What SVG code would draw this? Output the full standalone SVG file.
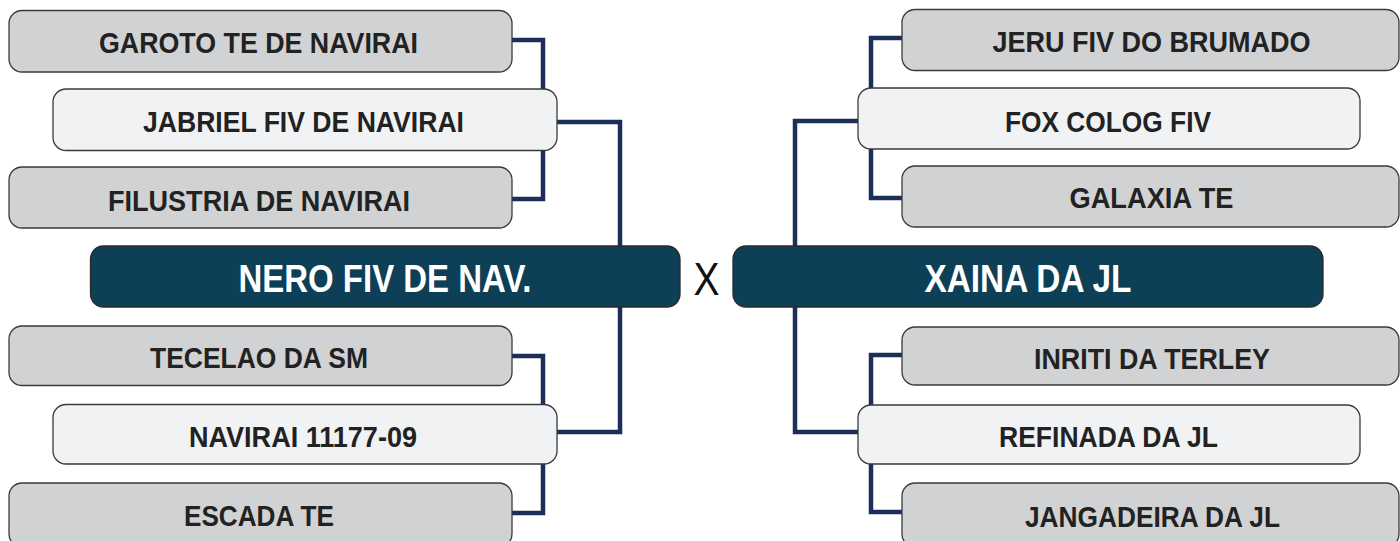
<svg xmlns="http://www.w3.org/2000/svg" width="1400" height="541" viewBox="0 0 1400 541">
<style>
.gray{fill:#d1d2d4;stroke:#3a3a3a;stroke-width:1.3}
.light{fill:#f1f2f4;stroke:#3a3a3a;stroke-width:1.3}
.dark{fill:#0d4057;stroke:#2a2a2a;stroke-width:1.3}
.lbl{font-family:"Liberation Sans",Arial,sans-serif;font-weight:bold;font-size:30px;fill:#222;text-anchor:middle}
.big{font-family:"Liberation Sans",Arial,sans-serif;font-weight:bold;font-size:38px;fill:#fff;text-anchor:middle}
.vs{font-family:"Liberation Sans",Arial,sans-serif;font-size:46px;fill:#111;text-anchor:middle}
.conn{fill:none;stroke:#1c2f5a;stroke-width:4.5}
</style>
<rect width="1400" height="541" fill="#fff"/>
<g id="connectors">
<path class="conn" d="M512,40 H543 V199 H512"/>
<path class="conn" d="M557,122 H620 V432 H557"/>
<path class="conn" d="M512,356 H543 V513 H512"/>
<path class="conn" d="M902,38 H871 V198 H902"/>
<path class="conn" d="M858,121 H795 V432 H858"/>
<path class="conn" d="M902,355 H871 V512 H902"/>
</g>
<g id="garoto"><rect class="gray" x="9" y="10.5" width="503" height="61.5" rx="13"/><text class="lbl" x="258.5" y="53" textLength="319" lengthAdjust="spacingAndGlyphs">GAROTO TE DE NAVIRAI</text></g>
<g id="jabriel"><rect class="light" x="53" y="89" width="504" height="61.5" rx="13"/><text class="lbl" x="303.5" y="132" textLength="321" lengthAdjust="spacingAndGlyphs">JABRIEL FIV DE NAVIRAI</text></g>
<g id="filustria"><rect class="gray" x="9" y="167" width="503" height="61" rx="13"/><text class="lbl" x="259" y="211" textLength="302" lengthAdjust="spacingAndGlyphs">FILUSTRIA DE NAVIRAI</text></g>
<g id="nero"><rect class="dark" x="90.5" y="246" width="589.5" height="61" rx="13"/><text class="big" x="385" y="292" textLength="293" lengthAdjust="spacingAndGlyphs">NERO FIV DE NAV.</text></g>
<g id="tecelao"><rect class="gray" x="9" y="326" width="503" height="59.5" rx="13"/><text class="lbl" x="259" y="368" textLength="218" lengthAdjust="spacingAndGlyphs">TECELAO DA SM</text></g>
<g id="navirai"><rect class="light" x="53" y="404.5" width="504" height="59.5" rx="13"/><text class="lbl" x="303" y="447" textLength="228" lengthAdjust="spacingAndGlyphs">NAVIRAI 11177-09</text></g>
<g id="escada"><rect class="gray" x="9" y="483" width="503" height="64" rx="13"/><text class="lbl" x="259" y="526" textLength="150" lengthAdjust="spacingAndGlyphs">ESCADA TE</text></g>
<text class="vs" x="706.5" y="295" textLength="26" lengthAdjust="spacingAndGlyphs">X</text>
<g id="jeru"><rect class="gray" x="902" y="9.5" width="497" height="61" rx="13"/><text class="lbl" x="1151.5" y="52" textLength="318" lengthAdjust="spacingAndGlyphs">JERU FIV DO BRUMADO</text></g>
<g id="fox"><rect class="light" x="858" y="88" width="502" height="61" rx="13"/><text class="lbl" x="1108" y="132" textLength="206" lengthAdjust="spacingAndGlyphs">FOX COLOG FIV</text></g>
<g id="galaxia"><rect class="gray" x="902" y="166" width="497" height="61" rx="13"/><text class="lbl" x="1151.5" y="208" textLength="164" lengthAdjust="spacingAndGlyphs">GALAXIA TE</text></g>
<g id="xaina"><rect class="dark" x="733" y="246" width="590" height="61" rx="13"/><text class="big" x="1028" y="292" textLength="207" lengthAdjust="spacingAndGlyphs">XAINA DA JL</text></g>
<g id="inriti"><rect class="gray" x="902" y="327" width="497" height="58" rx="13"/><text class="lbl" x="1152" y="369" textLength="236" lengthAdjust="spacingAndGlyphs">INRITI DA TERLEY</text></g>
<g id="refinada"><rect class="light" x="858" y="405" width="502" height="59" rx="13"/><text class="lbl" x="1108.5" y="447" textLength="219" lengthAdjust="spacingAndGlyphs">REFINADA DA JL</text></g>
<g id="jangadeira"><rect class="gray" x="902" y="483" width="497" height="64" rx="13"/><text class="lbl" x="1152.5" y="527" textLength="255" lengthAdjust="spacingAndGlyphs">JANGADEIRA DA JL</text></g>
</svg>
